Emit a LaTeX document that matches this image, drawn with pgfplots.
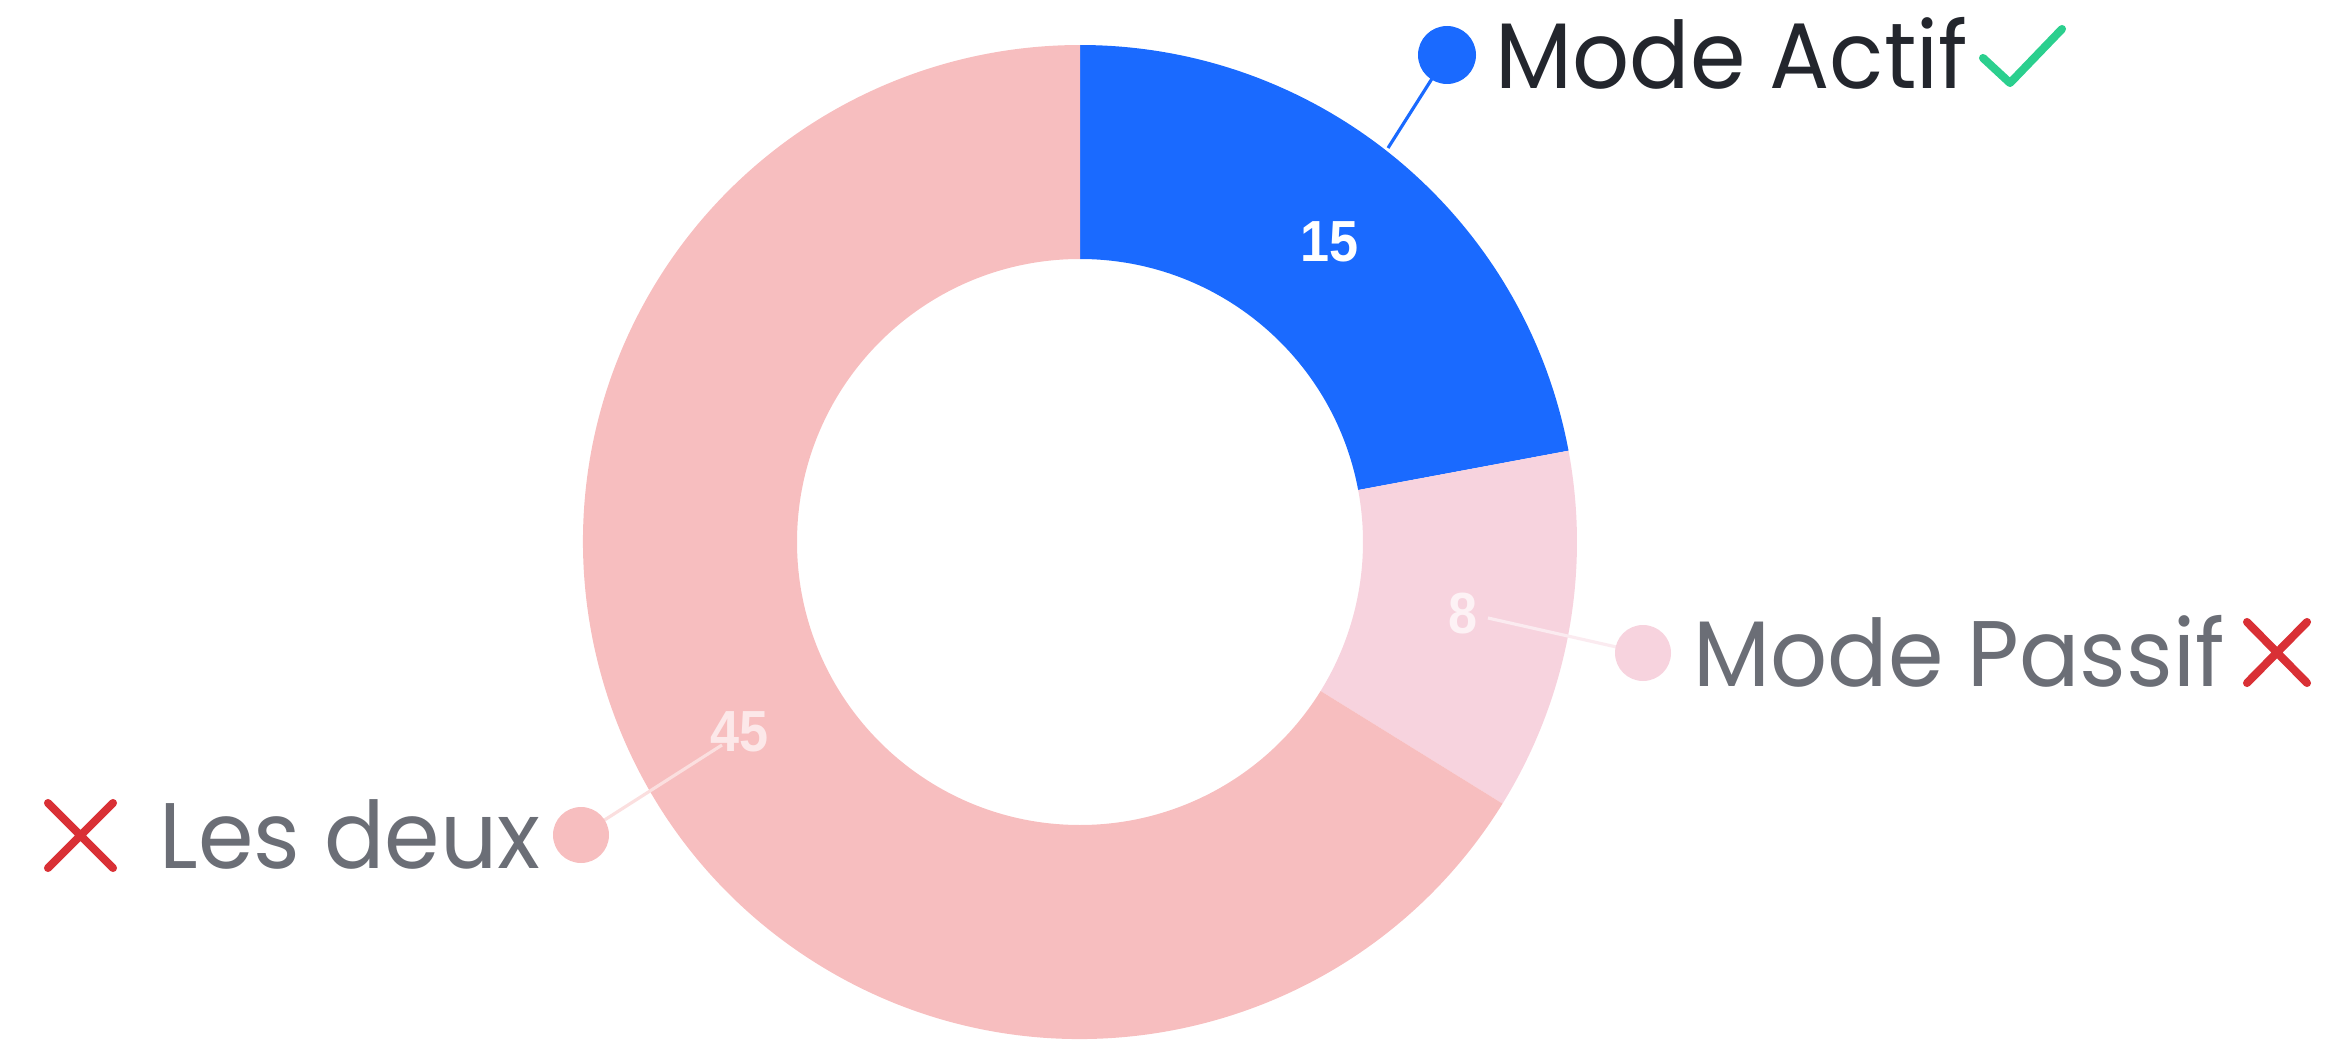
\documentclass[border=0pt]{standalone}
\usepackage{pgfplots}
\usepackage{pgfplotstable}
\pgfplotsset{compat=1.18}
\usepackage{fontspec}
\setmainfont{Poppins}
\newfontfamily\numfont{Liberation Sans}

\definecolor{cActif}{HTML}{1A6AFF}
\definecolor{cPassif}{HTML}{F7D3DE}
\definecolor{cDeux}{HTML}{F7BEBF}
\definecolor{txtDark}{HTML}{23262D}
\definecolor{txtGray}{HTML}{6B6E76}
\definecolor{okGreen}{HTML}{2BCF8E}
\definecolor{noRed}{HTML}{D93035}

% slice values
\pgfplotstableread{
label value
Actif 15
Passif 8
Deux 45
}\donutdata

\newcommand{\num}[1]{\scalebox{0.9}[1]{#1}}
\newcommand{\lbl}[1]{\scalebox{0.96}[1]{#1}}

\begin{document}
\begin{tikzpicture}
\pgfplotstablegetelem{0}{value}\of\donutdata \let\va\pgfplotsretval
\pgfplotstablegetelem{1}{value}\of\donutdata \let\vb\pgfplotsretval
\pgfplotstablegetelem{2}{value}\of\donutdata \let\vc\pgfplotsretval
\pgfmathsetmacro{\tot}{\va+\vb+\vc}
\pgfmathsetmacro{\aA}{90}
\pgfmathsetmacro{\aB}{\aA-360*\va/\tot}
\pgfmathsetmacro{\aC}{\aB-360*\vb/\tot}
\pgfmathsetmacro{\aD}{\aC-360*\vc/\tot}
\pgfmathsetmacro{\mA}{(\aA+\aB)/2}
\pgfmathsetmacro{\mB}{(\aB+\aC)/2}
\pgfmathsetmacro{\mC}{(\aC+\aD)/2}
\def\Ro{4.97cm}
\def\Ri{2.83cm}
\def\Rl{3.90cm}
\begin{axis}[
    scale only axis,
    width=23.26cm, height=10.41cm,
    xmin=0, xmax=2326, ymin=0, ymax=1041,
    hide axis, clip=false,
]
\coordinate (bl) at (axis cs:0,0);
\coordinate (tr) at (axis cs:2326,1041);
\coordinate (c) at (axis cs:1080,499);

% ring slices
\fill[cActif] ([shift={(\aA:\Ro)}]c) arc[start angle=\aA, end angle=\aB, radius=\Ro]
    -- ([shift={(\aB:\Ri)}]c) arc[start angle=\aB, end angle=\aA, radius=\Ri] -- cycle;
\fill[cPassif] ([shift={(\aB:\Ro)}]c) arc[start angle=\aB, end angle=\aC, radius=\Ro]
    -- ([shift={(\aC:\Ri)}]c) arc[start angle=\aC, end angle=\aB, radius=\Ri] -- cycle;
\fill[cDeux] ([shift={(\aC:\Ro)}]c) arc[start angle=\aC, end angle=\aD, radius=\Ro]
    -- ([shift={(\aD:\Ri)}]c) arc[start angle=\aD, end angle=\aC, radius=\Ri] -- cycle;

% leader lines and dots
\draw[cActif, line width=0.9pt] (axis cs:1388,893) -- (axis cs:1447,986);
\fill[cActif] (axis cs:1447,986) circle[radius=0.29cm];
\draw[color=white!55!cPassif, line width=0.9pt] (axis cs:1488,423) -- (axis cs:1643,388);
\fill[cPassif] (axis cs:1643,388) circle[radius=0.28cm];
\draw[color=white!50!cDeux, line width=0.9pt] (axis cs:722,296) -- (axis cs:581,206);
\fill[cDeux] (axis cs:581,206) circle[radius=0.28cm];

% values
\node[text=white, font=\numfont\bfseries\fontsize{16.5}{18}\selectfont]
    at ([shift={(\mA:\Rl)}]c) {\num{\va}};
\node[text=white!70!cPassif, font=\numfont\bfseries\fontsize{16.5}{18}\selectfont]
    at ([shift={(\mB:\Rl)}]c) {\num{\vb}};
\node[text=white!65!cDeux, font=\numfont\bfseries\fontsize{16.5}{18}\selectfont]
    at ([shift={(\mC:\Rl)}]c) {\num{\vc}};

% labels
\node[anchor=base west, inner sep=0pt, text=txtDark, font=\fontsize{26.5}{30}\selectfont]
    at (axis cs:1495,953) {\lbl{Mode Actif}};
\node[anchor=base west, inner sep=0pt, text=txtGray, font=\fontsize{26.5}{30}\selectfont]
    at (axis cs:1693,355) {\lbl{Mode Passif}};
\node[anchor=base east, inner sep=0pt, text=txtGray, font=\fontsize{26.5}{30}\selectfont]
    at (axis cs:541,173) {\lbl{Les deux}};

% check and crosses
\draw[okGreen, line width=2.3pt, line cap=round, line join=round]
    (axis cs:1983,983) -- (axis cs:2010,958) -- (axis cs:2062,1012);
\draw[noRed, line width=2.3pt, line cap=round]
    (axis cs:2247,419) -- (axis cs:2307,358) (axis cs:2247,358) -- (axis cs:2307,419);
\draw[noRed, line width=2.3pt, line cap=round]
    (axis cs:48,238) -- (axis cs:113,173) (axis cs:48,173) -- (axis cs:113,238);
\end{axis}
\pgfresetboundingbox
\path (bl) rectangle (tr);
\end{tikzpicture}
\end{document}
